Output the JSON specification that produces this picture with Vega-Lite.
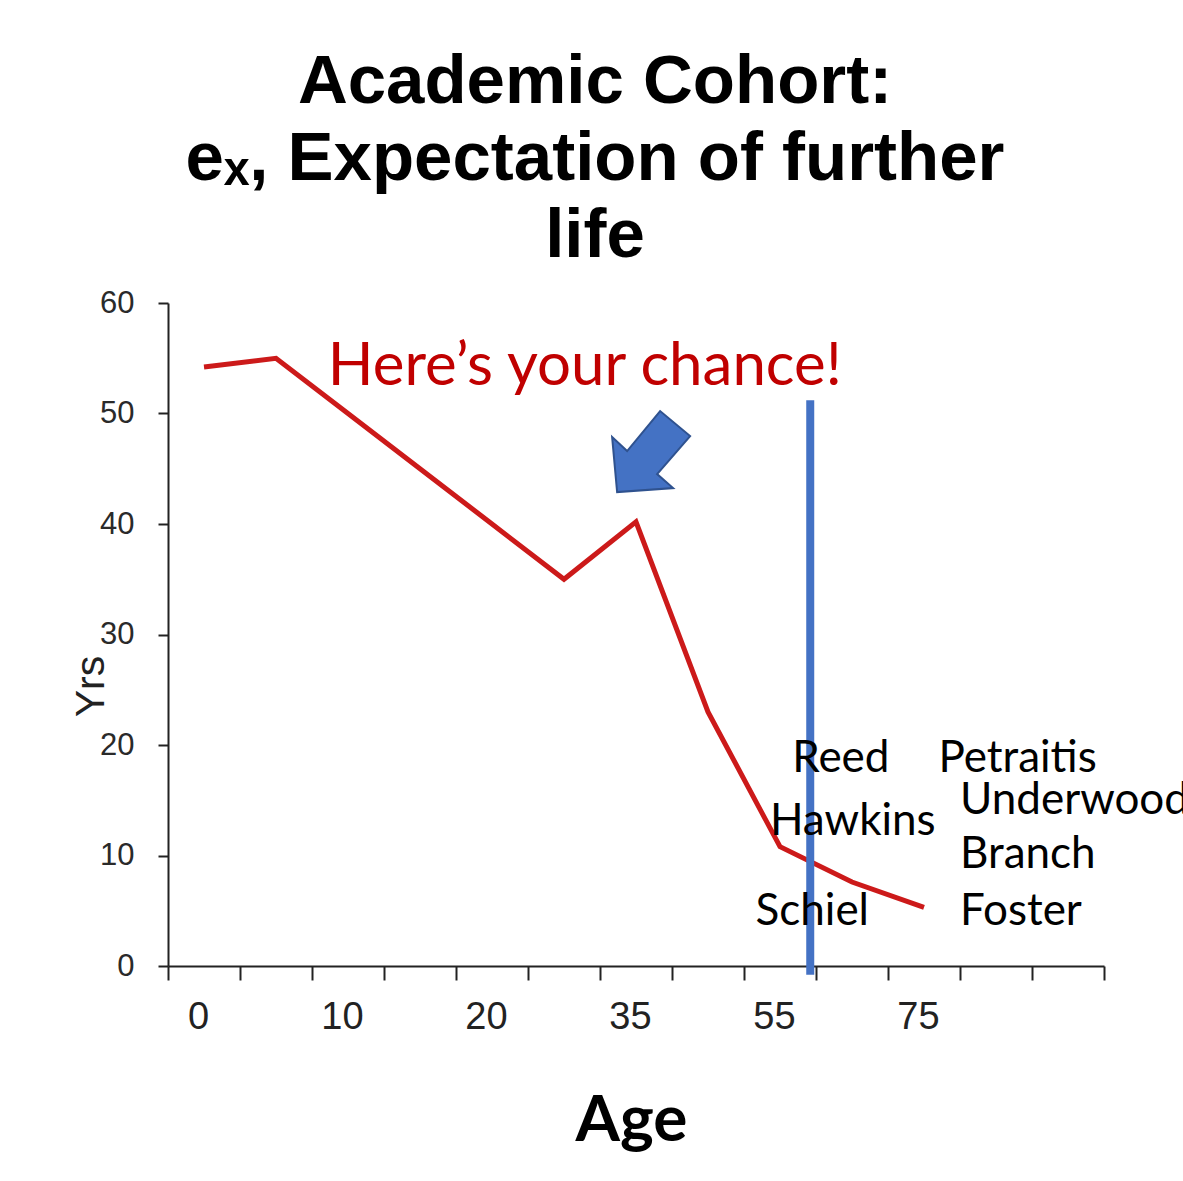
{
  "$schema": "https://vega.github.io/schema/vega-lite/v6.json",
  "width": 936,
  "height": 663,
  "autosize": "none",
  "padding": {"left": 168, "top": 303, "right": 79, "bottom": 215},
  "background": "white",
  "title": {
    "text": ["Academic Cohort:", "eₓ, Expectation of further", "life"],
    "font": "Liberation Sans, DejaVu Sans",
    "fontWeight": "bold",
    "fontSize": 69,
    "lineHeight": 77,
    "color": "#000000",
    "anchor": "middle",
    "frame": "group",
    "dx": -41,
    "offset": 16
  },
  "config": {"view": {"stroke": null}},
  "layer": [
    {
      "data": {"values": [
        {"age": "0", "yrs": 54.2},
        {"age": "5", "yrs": 55.0},
        {"age": "10", "yrs": 50.0},
        {"age": "15", "yrs": 45.0},
        {"age": "20", "yrs": 40.0},
        {"age": "25", "yrs": 35.0},
        {"age": "35", "yrs": 40.2},
        {"age": "45", "yrs": 23.0},
        {"age": "55", "yrs": 10.8},
        {"age": "65", "yrs": 7.6},
        {"age": "75", "yrs": 5.3}
      ]},
      "mark": {"type": "line", "color": "#CC1A1A", "strokeWidth": 5, "strokeJoin": "miter"},
      "encoding": {
        "x": {
          "field": "age", "type": "ordinal", "sort": null, "title": "Age",
          "scale": {"type": "band", "domain": ["0","5","10","15","20","25","35","45","55","65","75","85","95"], "paddingInner": 0, "paddingOuter": 0},
          "axis": {
            "tickBand": "extent",
            "labelExpr": "indexof(['0','10','20','35','55','75'], datum.value) >= 0 ? datum.value : ''",
            "labelAngle": 0, "labelOffset": -6, "labelOverlap": false,
            "labelFont": "Liberation Sans", "labelFontSize": 38, "labelColor": "#222222",
            "labelBaseline": "alphabetic", "labelPadding": 48,
            "tickSize": 14, "tickWidth": 2, "tickColor": "#222222",
            "domainColor": "#222222", "domainWidth": 2, "grid": false,
            "titleFont": "Lato", "titleFontSize": 64, "titleFontWeight": "bold", "titleColor": "#000000",
            "titleBaseline": "alphabetic", "titleAlign": "center", "titleY": 174, "titleX": 463
          }
        },
        "y": {
          "field": "yrs", "type": "quantitative", "title": "Yrs",
          "scale": {"domain": [0, 60], "nice": false},
          "axis": {
            "values": [0, 10, 20, 30, 40, 50, 60], "grid": false,
            "domainColor": "#222222", "domainWidth": 2,
            "tickColor": "#222222", "tickWidth": 2, "tickSize": 10,
            "labelFont": "Liberation Sans", "labelFontSize": 31, "labelColor": "#2a2a2a", "labelPadding": 24,
            "titleFont": "Liberation Sans", "titleFontSize": 41, "titleFontWeight": "normal", "titleColor": "#222222",
            "titleX": -65, "titleY": 383, "titleAngle": 270, "titleAlign": "center", "titleBaseline": "alphabetic"
          }
        }
      }
    },
    {
      "data": {"values": [{"age": "55", "yrs": 51.2, "yrs2": -0.8}]},
      "mark": {"type": "rule", "color": "#4472C4", "strokeWidth": 8},
      "encoding": {
        "x": {"field": "age", "type": "ordinal", "sort": null, "title": "Age", "bandPosition": 0.92,
              "scale": {"type": "band", "domain": ["0","5","10","15","20","25","35","45","55","65","75","85","95"], "paddingInner": 0, "paddingOuter": 0}},
        "y": {"field": "yrs", "type": "quantitative", "title": "Yrs", "scale": {"domain": [0, 60], "nice": false}},
        "y2": {"field": "yrs2"}
      }
    },
    {
      "data": {"values": [{"age": "35", "yrs": 46.6}]},
      "mark": {"type": "point", "shape": "M-0.85,1.025L-0.975,-0.35L-0.6,0L0.225,-1L0.975,-0.375L0.15,0.575L0.55,0.925Z", "size": 6400, "filled": true, "fill": "#4472C4", "stroke": "#2F528F", "strokeWidth": 2, "opacity": 1},
      "encoding": {
        "x": {"field": "age", "type": "ordinal", "sort": null, "title": "Age", "bandPosition": 0.71,
              "scale": {"type": "band", "domain": ["0","5","10","15","20","25","35","45","55","65","75","85","95"], "paddingInner": 0, "paddingOuter": 0}},
        "y": {"field": "yrs", "type": "quantitative", "title": "Yrs", "scale": {"domain": [0, 60], "nice": false}}
      }
    },
    {
      "data": {"values": [{"age": "10", "yrs": 52.6, "label": "Here’s your chance!"}]},
      "mark": {"type": "text", "align": "left", "baseline": "alphabetic", "font": "Lato", "fontSize": 60, "color": "#C00000"},
      "encoding": {
        "x": {"field": "age", "type": "ordinal", "sort": null, "title": "Age", "bandPosition": 0.22,
              "scale": {"type": "band", "domain": ["0","5","10","15","20","25","35","45","55","65","75","85","95"], "paddingInner": 0, "paddingOuter": 0}},
        "y": {"field": "yrs", "type": "quantitative", "title": "Yrs", "scale": {"domain": [0, 60], "nice": false}},
        "text": {"field": "label"}
      }
    },
    {
      "data": {"values": [{"age": "55", "yrs": 17.6, "label": "Reed"}]},
      "mark": {"type": "text", "align": "left", "baseline": "alphabetic", "font": "Lato", "fontSize": 44, "color": "#000000"},
      "encoding": {
        "x": {"field": "age", "type": "ordinal", "sort": null, "title": "Age", "bandPosition": 0.67,
              "scale": {"type": "band", "domain": ["0","5","10","15","20","25","35","45","55","65","75","85","95"], "paddingInner": 0, "paddingOuter": 0}},
        "y": {"field": "yrs", "type": "quantitative", "title": "Yrs", "scale": {"domain": [0, 60], "nice": false}},
        "text": {"field": "label"}
      }
    },
    {
      "data": {"values": [{"age": "55", "yrs": 11.9, "label": "Hawkins"}]},
      "mark": {"type": "text", "align": "left", "baseline": "alphabetic", "font": "Lato", "fontSize": 44, "color": "#000000"},
      "encoding": {
        "x": {"field": "age", "type": "ordinal", "sort": null, "title": "Age", "bandPosition": 0.36,
              "scale": {"type": "band", "domain": ["0","5","10","15","20","25","35","45","55","65","75","85","95"], "paddingInner": 0, "paddingOuter": 0}},
        "y": {"field": "yrs", "type": "quantitative", "title": "Yrs", "scale": {"domain": [0, 60], "nice": false}},
        "text": {"field": "label"}
      }
    },
    {
      "data": {"values": [{"age": "55", "yrs": 3.7, "label": "Schiel"}]},
      "mark": {"type": "text", "align": "left", "baseline": "alphabetic", "font": "Lato", "fontSize": 44, "color": "#000000"},
      "encoding": {
        "x": {"field": "age", "type": "ordinal", "sort": null, "title": "Age", "bandPosition": 0.16,
              "scale": {"type": "band", "domain": ["0","5","10","15","20","25","35","45","55","65","75","85","95"], "paddingInner": 0, "paddingOuter": 0}},
        "y": {"field": "yrs", "type": "quantitative", "title": "Yrs", "scale": {"domain": [0, 60], "nice": false}},
        "text": {"field": "label"}
      }
    },
    {
      "data": {"values": [{"age": "75", "yrs": 17.6, "label": "Petraitis"}]},
      "mark": {"type": "text", "align": "left", "baseline": "alphabetic", "font": "Lato", "fontSize": 44, "color": "#000000"},
      "encoding": {
        "x": {"field": "age", "type": "ordinal", "sort": null, "title": "Age", "bandPosition": 0.7,
              "scale": {"type": "band", "domain": ["0","5","10","15","20","25","35","45","55","65","75","85","95"], "paddingInner": 0, "paddingOuter": 0}},
        "y": {"field": "yrs", "type": "quantitative", "title": "Yrs", "scale": {"domain": [0, 60], "nice": false}},
        "text": {"field": "label"}
      }
    },
    {
      "data": {"values": [
        {"age": "85", "yrs": 13.8, "label": "Underwood"},
        {"age": "85", "yrs": 8.9, "label": "Branch"},
        {"age": "85", "yrs": 3.7, "label": "Foster"}
      ]},
      "mark": {"type": "text", "align": "left", "baseline": "alphabetic", "font": "Lato", "fontSize": 44, "color": "#000000"},
      "encoding": {
        "x": {"field": "age", "type": "ordinal", "sort": null, "title": "Age", "bandPosition": 0.0,
              "scale": {"type": "band", "domain": ["0","5","10","15","20","25","35","45","55","65","75","85","95"], "paddingInner": 0, "paddingOuter": 0}},
        "y": {"field": "yrs", "type": "quantitative", "title": "Yrs", "scale": {"domain": [0, 60], "nice": false}},
        "text": {"field": "label"}
      }
    }
  ]
}
